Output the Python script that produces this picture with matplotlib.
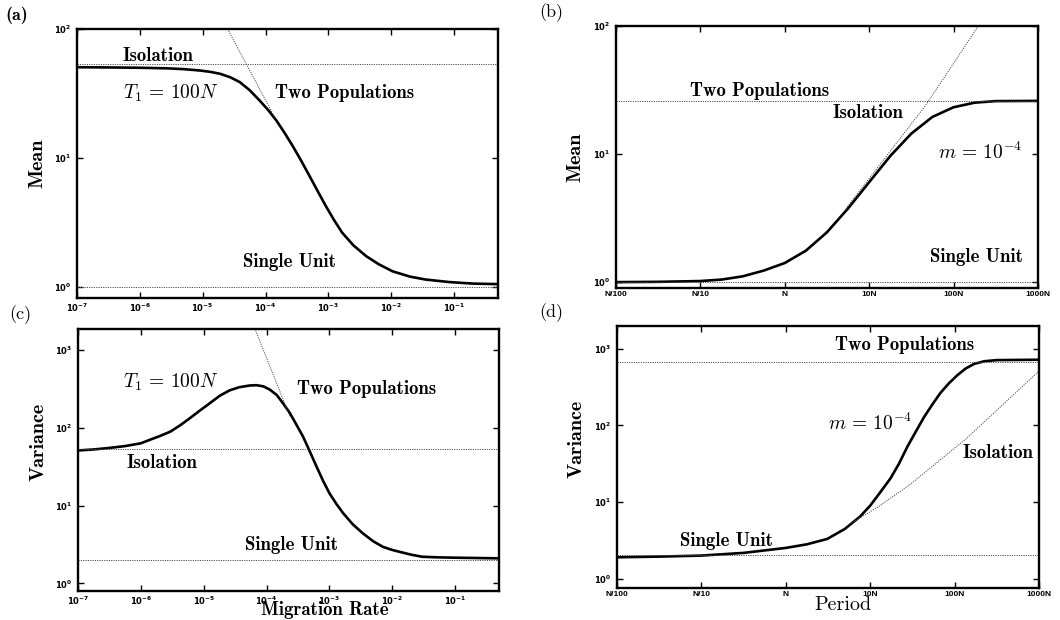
import matplotlib.pyplot as plt
from matplotlib.ticker import FixedLocator, NullLocator, FixedFormatter

plt.rcParams['mathtext.fontset'] = 'dejavusans'

# ---- (a) mean coalescence time vs migration rate (T1 = 100N)
rate_a = [1e-7, 3.2e-7, 1e-6, 2.7e-6, 5e-6, 9.1e-6, 1.32e-5, 1.9e-5, 2.75e-5, 3.9e-5,
          5.6e-5, 8.1e-5, 1.12e-4, 1.5e-4, 2.0e-4, 2.7e-4, 3.7e-4, 5.0e-4, 6.8e-4,
          9.1e-4, 1.23e-3, 1.66e-3, 2.5e-3, 4.0e-3, 6.3e-3, 1.05e-2, 2.0e-2, 3.5e-2,
          8.3e-2, 0.2, 0.5]
mean_a = [50.5, 50.3, 50.0, 49.5, 48.8, 47.6, 46.5, 44.9, 42.2, 38.7,
          33.5, 27.8, 23.3, 19.4, 15.7, 12.4, 9.5, 7.26, 5.5,
          4.24, 3.30, 2.63, 2.1, 1.73, 1.5, 1.32, 1.2, 1.14,
          1.09, 1.06, 1.05]
twopop_rate_a = [2.2e-5, 1.45e-4]
twopop_mean_a = [112, 20]
isolation_a = 53.5
single_a = 1.0

# ---- (b) mean vs period (m = 1e-4), period in units of N
period_b = [0.01, 0.0316, 0.1, 0.178, 0.316, 0.562, 1.0, 1.78, 3.16, 5.62, 10,
            17.8, 31.6, 56.2, 100, 178, 316, 1000]
mean_b = [1.0, 1.005, 1.02, 1.047, 1.109, 1.23, 1.41, 1.76, 2.45, 3.76, 6.03,
          9.66, 14.45, 19.5, 23.2, 25.2, 25.9, 26.0]
isol_period_b = [5.3, 46, 100, 196, 215]
isol_mean_b = [3.75, 23.7, 51, 100, 110]
twopop_b = 26.0
single_b = 1.0

# ---- (c) variance vs migration rate (T1 = 100N)
rate_c = [1e-7, 1.78e-7, 3.2e-7, 5.6e-7, 1e-6, 1.4e-6, 2e-6, 2.95e-6, 4.2e-6, 6e-6,
          8.7e-6, 1.26e-5, 1.8e-5, 2.6e-5, 3.7e-5, 5.4e-5, 6.9e-5, 8.9e-5, 1.12e-4,
          1.45e-4, 1.8e-4, 2.35e-4, 2.95e-4, 3.8e-4, 4.9e-4, 6.2e-4, 7.9e-4, 1e-3,
          1.29e-3, 1.66e-3, 2.35e-3, 3.4e-3, 5e-3, 7.1e-3, 1e-2, 1.3e-2, 2e-2,
          3e-2, 5.6e-2, 0.1, 0.5]
var_c = [51, 52.5, 55, 58, 63, 70, 78, 89, 107, 132,
         166, 207, 257, 302, 331, 348, 351, 339, 309,
         263, 209, 154, 111, 77, 49, 32, 20.9, 14.4,
         10.5, 7.95, 5.75, 4.4, 3.47, 2.95, 2.69, 2.55, 2.34,
         2.2, 2.16, 2.14, 2.1]
twopop_rate_c = [6.3e-5, 2.35e-4]
twopop_var_c = [2000, 139]
isolation_c = 53
single_c = 2.0

# ---- (d) variance vs period (m = 1e-4)
period_d = [0.01, 0.0316, 0.1, 0.316, 1.0, 1.78, 3.09, 5.0, 7.6, 10, 13.2, 17.4,
            21.9, 27.5, 34.7, 43.6, 54.3, 67.6, 85.1, 107, 135, 170, 224, 316, 1000]
var_d = [1.91, 1.95, 2.01, 2.18, 2.53, 2.82, 3.31, 4.47, 6.5, 9.0, 13.5, 20.4,
         31.6, 52.5, 83, 129, 186, 263, 351, 447, 550, 631, 684, 708, 716]
isol_period_d = [5.9, 12, 29.5, 137, 1000]
isol_var_d = [5.3, 8.45, 16.9, 67, 510]
twopop_d = 671
single_d = 2.05

rate_ticks = [1e-7, 1e-6, 1e-5, 1e-4, 1e-3, 1e-2, 1e-1]
rate_labels = [r'$\mathbf{10^{-7}}$', r'$\mathbf{10^{-6}}$', r'$\mathbf{10^{-5}}$',
               r'$\mathbf{10^{-4}}$', r'$\mathbf{10^{-3}}$', r'$\mathbf{10^{-2}}$',
               r'$\mathbf{10^{-1}}$']
period_ticks = [0.01, 0.1, 1, 10, 100, 1000]
period_labels = ['N/100', 'N/10', 'N', '10N', '100N', '1000N']

tickfont = {'family': 'Liberation Sans', 'weight': 'bold', 'size': 6}
lab = {'family': 'cmb10', 'size': 13.5}
axlab = {'family': 'cmb10', 'size': 14.5}
dot = dict(color='0.3', lw=0.7, ls=(0, (1.2, 1.2)))

fig = plt.figure(figsize=(10.6, 6.2), dpi=100)
ax_a = fig.add_axes([0.0726, 0.5194, 0.3972, 0.4339])
ax_b = fig.add_axes([0.5811, 0.5355, 0.3981, 0.4226])
ax_c = fig.add_axes([0.0736, 0.0468, 0.3972, 0.4226])
ax_d = fig.add_axes([0.5821, 0.0516, 0.3981, 0.4226])


def style(ax, xticks, xlabels, yticks):
    ax.set_xscale('log')
    ax.set_yscale('log')
    ax.xaxis.set_major_locator(FixedLocator(xticks))
    ax.xaxis.set_major_formatter(FixedFormatter(xlabels))
    ax.xaxis.set_minor_locator(NullLocator())
    ax.yaxis.set_major_locator(FixedLocator(yticks))
    ax.yaxis.set_major_formatter(FixedFormatter(
        [r'$\mathbf{10^{%d}}$' % i for i in range(len(yticks))]))
    ax.yaxis.set_minor_locator(NullLocator())
    ax.tick_params(direction='in', length=4, width=1, top=True, right=True, pad=4)
    ax.tick_params(axis='x', pad=2.5)
    for t in ax.get_xticklabels() + ax.get_yticklabels():
        t.set_fontproperties(tickfont)
    for s in ax.spines.values():
        s.set_linewidth(1.7)


def ylab(ax, text, x, y):
    ax.set_ylabel(text, fontdict=axlab)
    ax.yaxis.set_label_coords(x, y)
    ax.yaxis.label.set_va('center')


def mtext(ax, x, y, s):
    ax.text(x, y, s, transform=ax.transAxes, va='center', fontsize=14,
            math_fontfamily='cm')


# (a)
ax = ax_a
ax.plot(rate_a, mean_a, color='black', lw=1.9)
ax.plot(twopop_rate_a, twopop_mean_a, **dot)
ax.axhline(isolation_a, **dot)
ax.axhline(single_a, **dot)
ax.set_xlim(1e-7, 0.5)
ax.set_ylim(0.82, 100)
style(ax, rate_ticks, rate_labels, [1, 10, 100])
ylab(ax, 'Mean', -0.095, 0.5)
ax.text(0.109, 0.90, 'Isolation', transform=ax.transAxes, va='center', **lab)
mtext(ax, 0.109, 0.762, r'$T_1\,=\,100N$')
ax.text(0.47, 0.762, 'Two Populations', transform=ax.transAxes, va='center', **lab)
ax.text(0.394, 0.134, 'Single Unit', transform=ax.transAxes, va='center', **lab)

# (b)
ax = ax_b
ax.plot(period_b, mean_b, color='black', lw=1.9)
ax.plot(isol_period_b, isol_mean_b, **dot)
ax.axhline(twopop_b, **dot)
ax.axhline(single_b, **dot)
ax.set_xlim(0.01, 1000)
ax.set_ylim(0.9, 100)
style(ax, period_ticks, period_labels, [1, 10, 100])
ylab(ax, 'Mean', -0.097, 0.5)
ax.text(0.175, 0.752, 'Two Populations', transform=ax.transAxes, va='center', **lab)
ax.text(0.514, 0.668, 'Isolation', transform=ax.transAxes, va='center', **lab)
mtext(ax, 0.763, 0.519, r'$m\,=\,10^{-4}$')
ax.text(0.744, 0.118, 'Single Unit', transform=ax.transAxes, va='center', **lab)

# (c)
ax = ax_c
ax.plot(rate_c, var_c, color='black', lw=1.9)
ax.plot(twopop_rate_c, twopop_var_c, **dot)
ax.axhline(isolation_c, **dot)
ax.axhline(single_c, **dot)
ax.set_xlim(1e-7, 0.5)
ax.set_ylim(0.8, 1850)
style(ax, rate_ticks, rate_labels, [1, 10, 100, 1000])
ylab(ax, 'Variance', -0.095, 0.57)
ax.set_xlabel('Migration Rate', fontdict={'family': 'cmb10', 'size': 13.5})
ax.xaxis.set_label_coords(0.587, -0.106)
ax.xaxis.label.set_va('bottom')
mtext(ax, 0.107, 0.798, r'$T_1\,=\,100N$')
ax.text(0.52, 0.771, 'Two Populations', transform=ax.transAxes, va='center', **lab)
ax.text(0.114, 0.489, 'Isolation', transform=ax.transAxes, va='center', **lab)
ax.text(0.397, 0.176, 'Single Unit', transform=ax.transAxes, va='center', **lab)

# (d)
ax = ax_d
ax.plot(period_d, var_d, color='black', lw=1.9)
ax.plot(isol_period_d, isol_var_d, **dot)
ax.axhline(twopop_d, **dot)
ax.axhline(single_d, **dot)
ax.set_xlim(0.01, 1000)
ax.set_ylim(0.76, 1970)
style(ax, period_ticks, period_labels, [1, 10, 100, 1000])
ylab(ax, 'Variance', -0.095, 0.57)
ax.set_xlabel('Period', fontdict={'family': 'cmr10', 'size': 14.5})
ax.xaxis.set_label_coords(0.535, -0.064)
ax.xaxis.label.set_va('center')
ax.text(0.517, 0.927, 'Two Populations', transform=ax.transAxes, va='center', **lab)
mtext(ax, 0.50, 0.63, r'$m\,=\,10^{-4}$')
ax.text(0.818, 0.515, 'Isolation', transform=ax.transAxes, va='center', **lab)
ax.text(0.149, 0.179, 'Single Unit', transform=ax.transAxes, va='center', **lab)

# panel letters
fig.text(0.005, 0.976, '(a)', family='cmb10', size=13, va='center')
fig.text(0.509, 0.979, '(b)', family='cmr10', size=13, va='center')
fig.text(0.009, 0.492, '(c)', family='cmr10', size=13, va='center')
fig.text(0.509, 0.495, '(d)', family='cmr10', size=13, va='center')

fig.savefig('out.png', dpi=100)
